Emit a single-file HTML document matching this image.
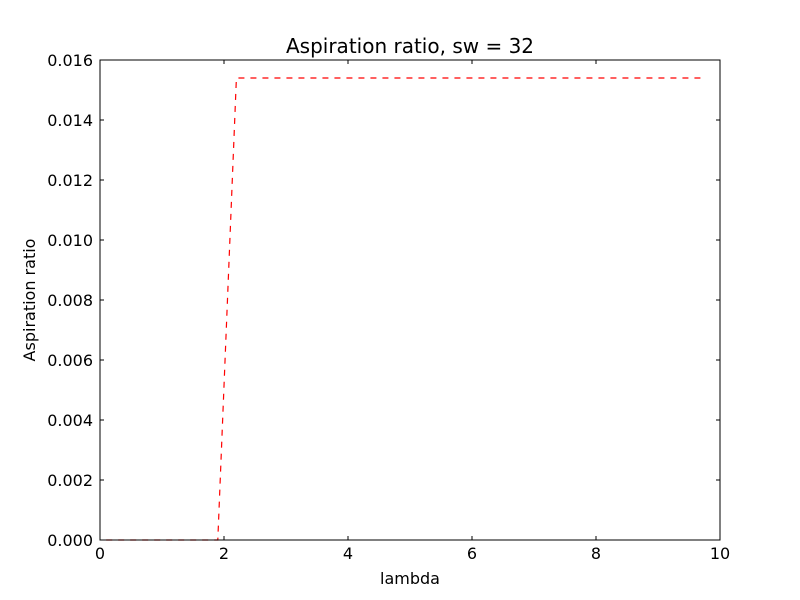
<!DOCTYPE html>
<html><head><meta charset="utf-8"><style>body{margin:0;background:#fff}svg{display:block}text{font-family:"DejaVu Sans","Liberation Sans",sans-serif}</style></head>
<body>
<svg id="chart" width="800" height="600">
<rect x="0" y="0" width="800" height="600" fill="#fff"/>
<text x="410" y="53" font-size="20" text-anchor="middle">Aspiration ratio, sw = 32</text>
<text x="410" y="584" font-size="16" text-anchor="middle">lambda</text>
<text x="35" y="300" font-size="16" text-anchor="middle" transform="rotate(-90 35 300)">Aspiration ratio</text>
<g id="ticks"></g>
<g id="marks"></g>
<rect x="100" y="60" width="620" height="480" fill="none" stroke="#000" stroke-width="1"/>
</svg>
<script>
const xTicks=[0,2,4,6,8,10];
const yTicks=[0,0.002,0.004,0.006,0.008,0.010,0.012,0.014,0.016];
const lambdas=[0.1,0.4,0.7,1.0,1.3,1.6,1.9,2.2,2.5,2.8,3.1,3.4,3.7,4.0,4.3,4.6,4.9,5.2,5.5,5.8,6.1,6.4,6.7,7.0,7.3,7.6,7.9,8.2,8.5,8.8,9.1,9.4,9.7];
const ratios=[0,0,0,0,0,0,0,0.0154,0.0154,0.0154,0.0154,0.0154,0.0154,0.0154,0.0154,0.0154,0.0154,0.0154,0.0154,0.0154,0.0154,0.0154,0.0154,0.0154,0.0154,0.0154,0.0154,0.0154,0.0154,0.0154,0.0154,0.0154,0.0154];
const NS='http://www.w3.org/2000/svg';
const X=v=>100+v/10*620, Y=v=>540-v/0.016*480;
const tg=document.getElementById('ticks'), mg=document.getElementById('marks');
function mk(t,a,p){const e=document.createElementNS(NS,t);for(const k in a)e.setAttribute(k,a[k]);p.appendChild(e);return e;}
xTicks.forEach(v=>{const x=X(v);
 mk('line',{x1:x,x2:x,y1:540,y2:536,stroke:'#000'},tg);
 mk('line',{x1:x,x2:x,y1:60,y2:64,stroke:'#000'},tg);
 const t=mk('text',{x:x,y:559,'font-size':16,'text-anchor':'middle'},tg);t.textContent=v;
 
 });
yTicks.forEach(v=>{const y=Y(v);
 mk('line',{x1:100,x2:104,y1:y,y2:y,stroke:'#000'},tg);
 mk('line',{x1:716,x2:720,y1:y,y2:y,stroke:'#000'},tg);
 const t=mk('text',{x:93,y:y+6,'font-size':16,'text-anchor':'end'},tg);t.textContent=v.toFixed(3);
 
 });
const pl=mk('polyline',{points:lambdas.map((l,i)=>X(l)+','+Y(ratios[i])).join(' '),fill:'none',stroke:'#f00','stroke-width':1.2,'stroke-dasharray':'6,6'},mg);


</script>
</body></html>
